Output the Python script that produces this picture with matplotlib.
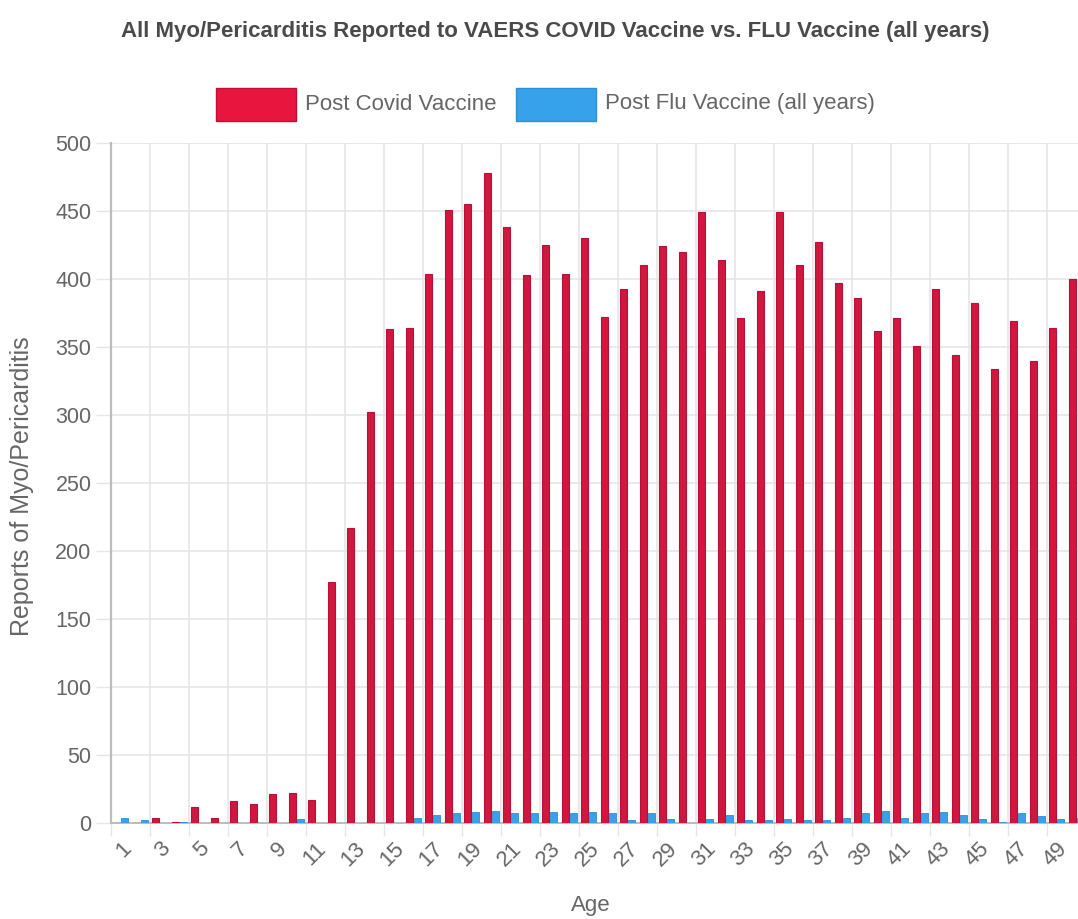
import matplotlib
matplotlib.use("Agg")
import matplotlib.pyplot as plt
from matplotlib.patches import Rectangle
import numpy as np

ages = list(range(1, 51))
covid = [0, 0, 4, 1, 12, 4, 16, 14, 21, 22, 17, 177, 217, 302, 363, 364, 404, 451, 455, 478,
         438, 403, 425, 404, 430, 372, 393, 410, 424, 420, 449, 414, 371, 391, 449, 410, 427, 397, 386, 362,
         371, 351, 393, 344, 382, 334, 369, 340, 364, 400]
flu = [4, 2, 0, 1, 0, 0, 0, 0, 0, 3, 0, 0, 0, 0, 0, 4, 6, 7, 8, 9,
       7, 7, 8, 7, 8, 7, 2, 7, 3, 0, 3, 6, 2, 2, 3, 2, 2, 4, 7, 9,
       4, 7, 8, 6, 3, 1, 7, 5, 3, 4]
series_labels = ["Post Covid Vaccine", "Post Flu Vaccine (all years)"]
title = "All Myo/Pericarditis Reported to VAERS COVID Vaccine vs. FLU Vaccine (all years)"
y_ticks = [0, 50, 100, 150, 200, 250, 300, 350, 400, 450, 500]

FONT = "Liberation Sans"
RED = "#D2173F"
RED_EDGE = "#B3123A"
RED_LEG = "#E8153F"
BLUE = "#36A2EB"
TXT = "#666666"
GRID = "#e6e6e6"
AXIS = "#bdbdbd"

W, H = 1078, 919
fig = plt.figure(figsize=(W / 100, H / 100), dpi=100)
left_px, right_px, top_px, bot_px = 111, 1086, 143, 823
ax = fig.add_axes([left_px / W, (H - bot_px) / H, (right_px - left_px) / W, (bot_px - top_px) / H])

x = np.arange(len(ages))
bw = 0.36
ax.bar(x - 0.2, covid, width=bw, color=RED, edgecolor=RED_EDGE, linewidth=0.8, zorder=3)
ax.bar(x + 0.2, flu, width=bw, color=BLUE, edgecolor="#2f8fd0", linewidth=0.6, zorder=3)

ax.set_xlim(-0.5, len(ages) - 0.5)
ax.set_ylim(0, 500)

# y axis
ax.set_yticks(y_ticks)
ax.set_yticklabels([str(v) for v in y_ticks], fontsize=15.5, color=TXT, family=FONT)
ax.tick_params(axis="y", length=11, width=1, color=GRID, pad=3)
ax.yaxis.grid(True, color=GRID, linewidth=1.2, zorder=0)

# x axis: labels at every other category center, grid lines at category left edges
ax.set_xticks(x[::2])
ax.set_xticklabels([str(a) for a in ages[::2]], rotation=45, ha="right", va="top",
                   rotation_mode="anchor", fontsize=16, color=TXT, family=FONT)
ax.tick_params(axis="x", which="major", length=0, pad=11)
minor = x[::2] - 0.5
ax.set_xticks(minor, minor=True)
ax.tick_params(axis="x", which="minor", length=9, width=1, color=GRID)
ax.xaxis.grid(True, which="minor", color=GRID, linewidth=1.2, zorder=0)
ax.xaxis.grid(False, which="major")

for s in ["top", "right"]:
    ax.spines[s].set_visible(False)
ax.spines["left"].set_color(AXIS)
ax.spines["left"].set_linewidth(1.6)
ax.spines["bottom"].set_color(AXIS)
ax.spines["bottom"].set_linewidth(1.4)

fig.text(591 / W, 1 - 905 / H, "Age", ha="center", va="center", fontsize=16, color=TXT, family=FONT)
fig.text(22 / W, 1 - 486 / H, "Reports of Myo/Pericarditis", rotation=90, ha="center", va="center",
         fontsize=18, color=TXT, family=FONT)

# title
fig.text(555 / W, 1 - 31 / H, title, ha="center", va="center", fontsize=16, fontweight="bold",
         color="#4a4a4a", family=FONT)

# legend (manual)
leg_y0, leg_y1 = 88, 121
for (bx0, bx1, col, edge, tx, lab) in [(216, 296, RED_LEG, "#c01035", 305, series_labels[0]),
                                       (516, 596, BLUE, "#2f8fd0", 605, series_labels[1])]:
    fig.patches.append(Rectangle((bx0 / W, 1 - leg_y1 / H), (bx1 - bx0) / W, (leg_y1 - leg_y0) / H,
                                 transform=fig.transFigure, facecolor=col, edgecolor=edge, linewidth=1))
    fig.text(tx / W, 1 - 104 / H, lab, ha="left", va="center", fontsize=16, color=TXT, family=FONT)

fig.savefig("out.png", dpi=100, facecolor="white")
